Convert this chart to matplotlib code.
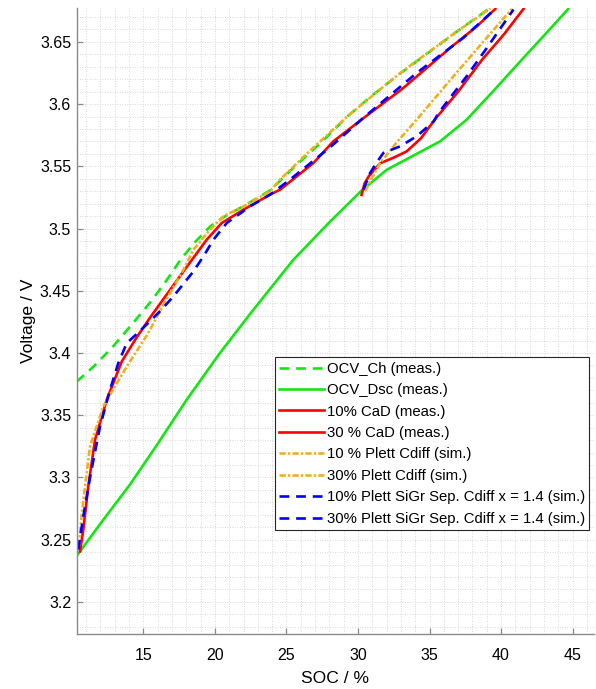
import matplotlib
matplotlib.use('Agg')
import matplotlib.pyplot as plt
from matplotlib.ticker import MultipleLocator, FuncFormatter

plt.rcParams['font.family'] = ['Liberation Sans', 'DejaVu Sans']

# OCV charge (meas.)
ocv_ch_soc = [10.34, 11.6, 12.9, 14.2, 15.5, 16.6, 17.6, 18.6, 19.7, 20.8, 22.0, 23.9,
              25.5, 27.5, 29.3, 31.0, 33.0, 35.0, 37.0, 39.2]
ocv_ch_v = [3.377, 3.390, 3.4055, 3.423, 3.441, 3.458, 3.475, 3.489, 3.502, 3.5105, 3.518, 3.531,
            3.549, 3.570, 3.5905, 3.607, 3.625, 3.642, 3.659, 3.677]

# OCV discharge (meas.)
ocv_dsc_soc = [10.34, 12.2, 14.07, 16.0, 18.0, 20.37, 22.5, 25.49, 28.0, 30.27, 32.02, 35.75,
               37.6, 39.5, 41.46, 43.0, 44.7]
ocv_dsc_v = [3.237, 3.266, 3.2944, 3.327, 3.362, 3.4003, 3.432, 3.475, 3.505, 3.5307, 3.5473, 3.5701,
             3.5875, 3.611, 3.6358, 3.655, 3.6765]

# 10 % CaD (meas.)
cad10_soc = [10.57, 10.8, 11.15, 11.62, 12.44, 13.49, 14.5, 15.5, 16.6, 17.8, 19.43, 20.48, 22.0,
             23.86, 24.56, 26.89, 28.28, 30.3, 33.1, 36.45, 38.31, 39.6]
cad10_v = [3.2406, 3.258, 3.2928, 3.3303, 3.3625, 3.3932, 3.412, 3.429, 3.4465, 3.4656, 3.4911,
           3.5045, 3.5152, 3.5273, 3.5313, 3.5527, 3.5701, 3.588, 3.6123, 3.6452, 3.6625, 3.6765]

# 30 % CaD (meas.)
cad30_soc = [30.25, 30.45, 30.75, 31.55, 32.5, 33.4, 34.4, 35.4, 37.0, 38.7, 40.2, 41.57]
cad30_v = [3.527, 3.536, 3.542, 3.5525, 3.557, 3.562, 3.5725, 3.588, 3.610, 3.636, 3.656, 3.6765]

# 10 % Plett Cdiff (sim.)
plett10_soc = [10.5, 10.7, 11.0, 11.27, 12.2, 13.0, 13.84, 15.23, 16.86, 17.8, 18.5, 19.66, 20.59,
               22.0, 23.86, 24.56, 26.5, 29.3, 32.95, 36.45, 39.25]
plett10_v = [3.245, 3.2714, 3.30, 3.325, 3.357, 3.373, 3.3892, 3.414, 3.4482, 3.467, 3.483, 3.4991,
             3.5098, 3.5178, 3.53, 3.5394, 3.561, 3.5905, 3.625, 3.6545, 3.677]

# 30 % Plett Cdiff (sim.)
plett30_soc = [30.5, 31.0, 31.55, 32.8, 34.1, 36.5, 38.9, 40.76]
plett30_v = [3.53, 3.541, 3.5527, 3.5705, 3.5875, 3.620, 3.652, 3.6765]

# 10 % Plett SiGr Sep. Cdiff x = 1.4 (sim.)
sigr10_soc = [10.45, 10.8, 11.27, 11.97, 12.67, 13.25, 13.84, 14.6, 15.5, 16.2, 17.1, 18.5, 19.2,
              19.9, 20.83, 22.46, 23.86, 25.1, 28.0, 30.38, 34.1, 37.36, 39.6]
sigr10_v = [3.242, 3.2686, 3.30, 3.341, 3.3705, 3.392, 3.408, 3.416, 3.426, 3.434, 3.4455, 3.4656,
            3.4777, 3.4911, 3.5045, 3.5178, 3.5273, 3.538, 3.5648, 3.589, 3.625, 3.6532, 3.6765]

# 30 % Plett SiGr Sep. Cdiff x = 1.4 (sim.)
sigr30_soc = [30.38, 30.85, 31.3, 31.78, 32.95, 34.1, 35.3, 35.63, 37.6, 39.0, 40.87]
sigr30_v = [3.5313, 3.5447, 3.553, 3.5608, 3.5661, 3.5741, 3.5862, 3.5929, 3.6224, 3.645, 3.676]

green = '#14e614'
orange = '#edb120'
lw = 1.9

fig = plt.figure(figsize=(5.96, 6.89), dpi=100)
ax = fig.add_axes([0.1287, 0.0803, 0.868, 0.9077])

ax.plot(ocv_ch_soc, ocv_ch_v, color=green, lw=lw, dashes=(3.7, 2.6), label='OCV_Ch (meas.)')
ax.plot(ocv_dsc_soc, ocv_dsc_v, color=green, lw=lw, label='OCV_Dsc (meas.)')
ax.plot(cad10_soc, cad10_v, color='red', lw=lw, label='10% CaD (meas.)')
ax.plot(cad30_soc, cad30_v, color='red', lw=lw, label='30 % CaD (meas.)')
ax.plot(plett10_soc, plett10_v, color=orange, lw=lw, dashes=(2.4, 0.8, 0.9, 0.8), label='10 % Plett Cdiff (sim.)')
ax.plot(plett30_soc, plett30_v, color=orange, lw=lw, dashes=(2.4, 0.8, 0.9, 0.8), label='30% Plett Cdiff (sim.)')
ax.plot(sigr10_soc, sigr10_v, color='blue', lw=lw, dashes=(3.7, 2.6), label='10% Plett SiGr Sep. Cdiff x = 1.4 (sim.)')
ax.plot(sigr30_soc, sigr30_v, color='blue', lw=lw, dashes=(3.7, 2.6), label='30% Plett SiGr Sep. Cdiff x = 1.4 (sim.)')

ax.set_xlim(10.34, 46.5)
ax.set_ylim(3.1745, 3.677)
ax.xaxis.set_major_locator(MultipleLocator(5))
ax.xaxis.set_minor_locator(MultipleLocator(1))
ax.yaxis.set_major_locator(MultipleLocator(0.05))
ax.yaxis.set_minor_locator(MultipleLocator(0.01))
ax.set_xticks([15, 20, 25, 30, 35, 40, 45])
ax.yaxis.set_major_formatter(FuncFormatter(lambda v, p: '%g' % round(v, 3)))

ax.grid(which='both', color='#cccccc', linestyle=(0, (1, 2)), linewidth=0.6)
ax.set_axisbelow(True)
for side in ['top', 'right']:
    ax.spines[side].set_visible(False)
for side in ['left', 'bottom']:
    ax.spines[side].set_color('#8a8a8a')
    ax.spines[side].set_linewidth(1.0)
ax.tick_params(which='major', direction='in', length=4, width=0.9, color='#8a8a8a',
               labelsize=11.5, labelcolor='black')
ax.tick_params(which='minor', length=0)
ax.tick_params(axis='x', pad=10)
ax.tick_params(axis='y', pad=4)

ax.set_xlabel('SOC / %', fontsize=12.6, labelpad=6)
ax.set_ylabel('Voltage / V', fontsize=12.6, labelpad=3)

leg = ax.legend(loc='upper left', bbox_to_anchor=(0.383, 0.442), borderaxespad=0,
                fontsize=10.7, handlelength=3.0, handletextpad=0.2, labelspacing=0.5,
                borderpad=0.3, fancybox=False, framealpha=1, edgecolor='#262626')
leg.get_frame().set_linewidth(0.8)

fig.savefig('out.png', dpi=100)
